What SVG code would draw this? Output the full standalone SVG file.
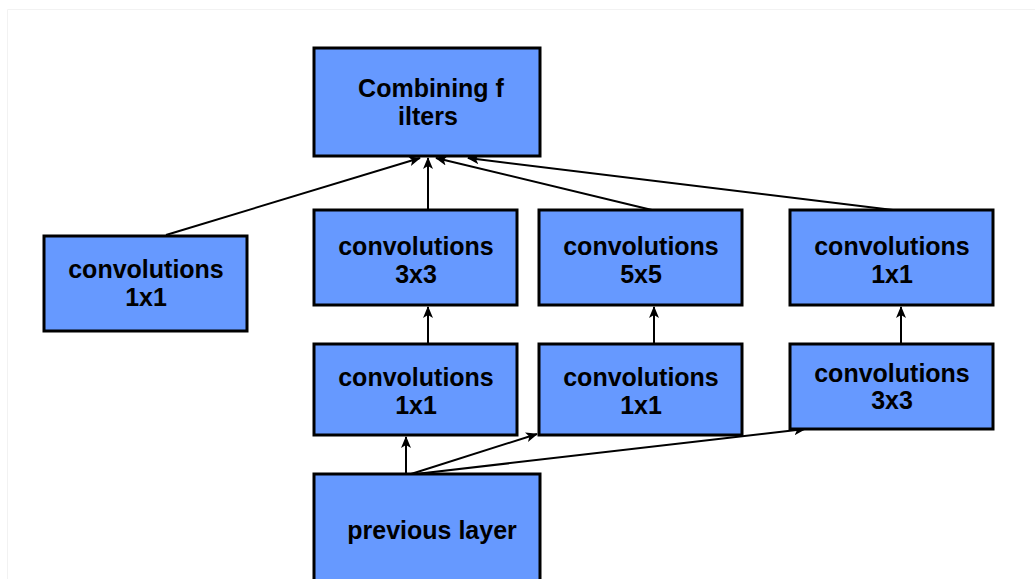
<svg xmlns="http://www.w3.org/2000/svg" width="1035" height="579" viewBox="0 0 1035 579">
<defs>
<marker id="ah" markerWidth="12" markerHeight="12" refX="11" refY="6" orient="auto" markerUnits="userSpaceOnUse">
<path d="M0,1 L12,6 L0,11 L3,6 Z" fill="#000"/>
</marker>
<style>
.box{fill:#6699FF;stroke:#000;stroke-width:3}
.t{font-family:"Liberation Sans",Arial,sans-serif;font-weight:bold;font-size:25px;fill:#000;text-anchor:middle}
.c{stroke:#000;stroke-width:2;fill:none;marker-end:url(#ah)}
</style>
</defs>
<rect width="1035" height="579" fill="#fff"/>
<path d="M7.5,579 V9.5 H1035" fill="none" stroke="#f2f2f2" stroke-width="1"/>
<g id="connectors">
<line class="c" x1="166" y1="235" x2="420" y2="158"/>
<line class="c" x1="428" y1="210" x2="428" y2="158"/>
<line class="c" x1="652" y1="210" x2="436" y2="158"/>
<line class="c" x1="893" y1="210" x2="468" y2="158"/>
<line class="c" x1="428" y1="343" x2="428" y2="307"/>
<line class="c" x1="654" y1="343" x2="654" y2="307"/>
<line class="c" x1="901" y1="344" x2="901" y2="307"/>
<line class="c" x1="406" y1="473" x2="406" y2="437"/>
<line class="c" x1="411" y1="474" x2="537" y2="434"/>
<line class="c" x1="416" y1="474" x2="805" y2="429"/>
</g>
<g id="combining">
<rect class="box" x="314" y="48" width="226" height="108"/>
<text class="t" x="431" y="97">Combining f</text>
<text class="t" x="428" y="125">ilters</text>
</g>
<g id="conv1x1-left">
<rect class="box" x="44" y="236" width="203" height="95"/>
<text class="t" x="146" y="278">convolutions</text>
<text class="t" x="146" y="306">1x1</text>
</g>
<g id="conv3x3-top">
<rect class="box" x="314" y="210" width="203" height="95"/>
<text class="t" x="416" y="255">convolutions</text>
<text class="t" x="416" y="283">3x3</text>
</g>
<g id="conv5x5">
<rect class="box" x="539" y="210" width="203" height="95"/>
<text class="t" x="641" y="255">convolutions</text>
<text class="t" x="641" y="283">5x5</text>
</g>
<g id="conv1x1-right">
<rect class="box" x="790" y="210" width="203" height="95"/>
<text class="t" x="892" y="255">convolutions</text>
<text class="t" x="892" y="283">1x1</text>
</g>
<g id="conv1x1-mid-a">
<rect class="box" x="314" y="344" width="203" height="91"/>
<text class="t" x="416" y="386">convolutions</text>
<text class="t" x="416" y="414">1x1</text>
</g>
<g id="conv1x1-mid-b">
<rect class="box" x="539" y="344" width="203" height="91"/>
<text class="t" x="641" y="386">convolutions</text>
<text class="t" x="641" y="414">1x1</text>
</g>
<g id="conv3x3-right">
<rect class="box" x="790" y="344" width="203" height="85"/>
<text class="t" x="892" y="382">convolutions</text>
<text class="t" x="892" y="409">3x3</text>
</g>
<g id="previous-layer">
<rect class="box" x="314" y="474" width="226" height="110"/>
<text class="t" x="432" y="539">previous layer</text>
</g>
</svg>
